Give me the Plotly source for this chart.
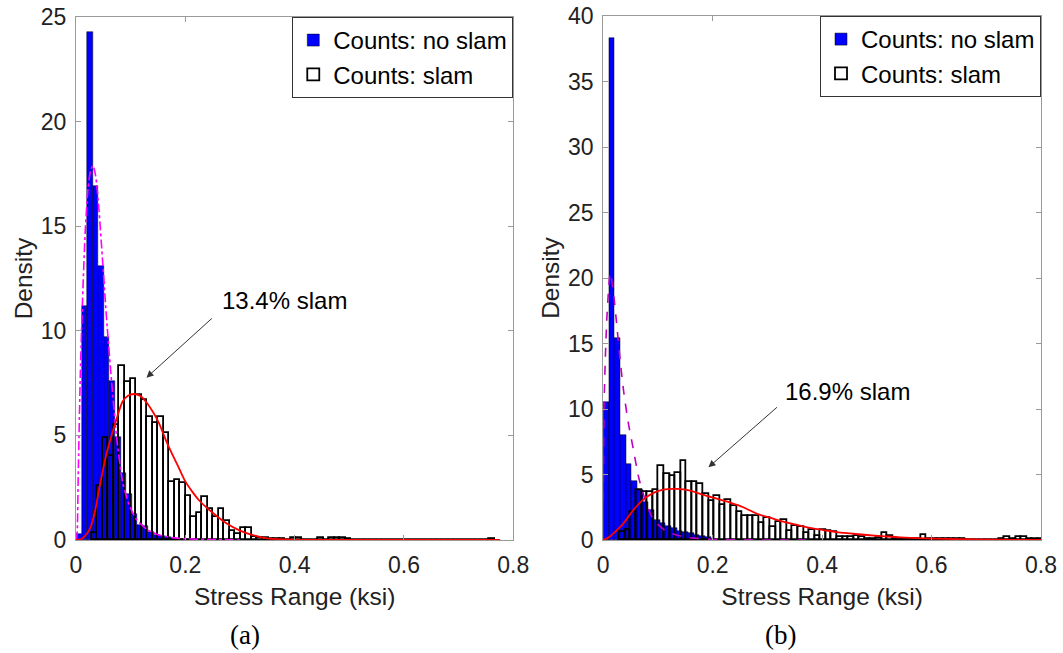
import plotly.graph_objects as go

# ---------------- data ----------------
# (a) left panel
a_noslam_start = 0.0
a_noslam_width = 0.0102
a_noslam = [0.3, 11.2, 24.3, 16.9, 13.1, 9.7, 7.6, 4.9, 3.2, 2.2, 1.25, 0.7, 0.65,
            0.4, 0.25, 0.2, 0.12, 0.08, 0.05, 0.03, 0.02]

a_slam_start = 0.029
a_slam_width = 0.0101
a_slam = [0.32, 2.58, 4.89, 4.02, 5.5, 8.33, 7.57, 7.68, 6.93, 6.69, 5.9, 5.6, 5.9,
          5.1, 2.79, 2.87, 2.74, 2.1, 1.11, 1.28, 2.07, 1.5, 1.1, 1.5, 0.9, 0.45,
          0.28, 0.55, 0.55, 0.16, 0.1, 0.1, 0.05, 0.05, 0.05, 0.0, 0.1, 0.1, 0.0,
          0.0, 0.0, 0.1, 0.0, 0.1, 0.1, 0.1, 0.05, 0, 0, 0, 0, 0, 0, 0, 0, 0, 0,
          0, 0, 0, 0, 0, 0, 0, 0, 0, 0, 0, 0, 0, 0, 0, 0.05]

a_fit_noslam_x = [0.0, 0.002, 0.004, 0.008, 0.012, 0.017, 0.022, 0.027, 0.031, 0.036,
                  0.042, 0.049, 0.057, 0.065, 0.074, 0.085, 0.097, 0.11, 0.13, 0.15,
                  0.18, 0.21, 0.25, 0.3]
a_fit_noslam_y = [0.0, 0.3, 3.0, 8.0, 11.5, 14.8, 16.8, 17.7, 17.9, 17.4, 15.8, 13.2,
                  10.2, 7.6, 5.0, 2.8, 1.7, 1.0, 0.5, 0.25, 0.1, 0.05, 0.02, 0.0]

a_fit_slam_x = [0.0, 0.01, 0.02, 0.027, 0.035, 0.042, 0.0545, 0.07, 0.085, 0.095, 0.106,
                0.117, 0.128, 0.14, 0.152, 0.164, 0.176, 0.189, 0.2, 0.213, 0.225,
                0.25, 0.275, 0.3, 0.325, 0.35, 0.4, 0.5, 0.6, 0.776]
a_fit_slam_y = [0.0, 0.05, 0.3, 0.64, 1.4, 2.39, 3.98, 5.42, 6.61, 6.9, 6.98, 6.9, 6.61,
                6.15, 5.58, 4.8, 4.1, 3.4, 2.8, 2.3, 1.9, 1.3, 0.8, 0.45, 0.22, 0.08,
                0.02, 0.005, 0.0, 0.0]

# (b) right panel
b_noslam_start = 0.0
b_noslam_width = 0.01035
b_noslam = [10.56, 38.3, 15.4, 8.05, 5.8, 4.5, 3.8, 2.9, 2.3, 1.5, 1.3, 1.1, 0.9, 0.7,
            0.6, 0.5, 0.4, 0.3, 0.2, 0.1]

b_slam_start = 0.0298
b_slam_width = 0.0102
b_slam = [0.64, 0.8, 2.1, 3.8, 3.7, 3.7, 3.8, 5.65, 5.04, 4.85, 5.14, 6.05, 4.45, 4.4,
          4.3, 3.5, 3.0, 3.35, 2.7, 3.05, 2.6, 2.1, 1.85, 1.85, 1.8, 1.3, 1.7, 1.0,
          1.35, 1.55, 0.65, 1.08, 0.97, 0.5, 0.76, 0.3, 0.76, 0.71, 0.64, 0.25, 0.22,
          0.25, 0.3, 0.25, 0.08, 0.1, 0.13, 0.5, 0.3, 0.1, 0.05, 0.05, 0.05, 0.08,
          0.38, 0.05, 0.05, 0.05, 0.05, 0.05, 0.08, 0.05, 0, 0, 0, 0, 0, 0, 0.05,
          0.25, 0.1, 0.25, 0.25, 0.05, 0.1, 0.05]

b_fit_noslam_x = [0.0, 0.0018, 0.0067, 0.0128, 0.0189, 0.025, 0.031, 0.037, 0.046,
                  0.0553, 0.0645, 0.0767, 0.092, 0.116, 0.153, 0.2, 0.26, 0.37]
b_fit_noslam_y = [3.0, 10.9, 17.0, 20.4, 18.8, 16.3, 13.7, 11.45, 8.9, 6.87, 4.83,
                  3.05, 1.53, 0.64, 0.2, 0.05, 0.01, 0.0]

b_fit_slam_x = [0.0, 0.01, 0.0188, 0.037, 0.0553, 0.0736, 0.0919, 0.11, 0.1345, 0.159,
                0.183, 0.2076, 0.232, 0.256, 0.281, 0.305, 0.329, 0.354, 0.378, 0.402,
                0.427, 0.451, 0.482, 0.51, 0.542, 0.603, 0.65, 0.7, 0.75, 0.8]
b_fit_slam_y = [0.0, 0.2, 0.51, 1.27, 2.3, 3.1, 3.6, 3.85, 3.9, 3.77, 3.44, 3.15, 2.85,
                2.5, 2.0, 1.7, 1.4, 1.15, 0.92, 0.76, 0.6, 0.5, 0.38, 0.3, 0.2, 0.1,
                0.06, 0.03, 0.01, 0.0]

legend_labels = ["Counts: no slam", "Counts: slam"]
x_ticks = [0, 0.2, 0.4, 0.6, 0.8]
x_ticktext = ["0", "0.2", "0.4", "0.6", "0.8"]
a_y_ticks = [0, 5, 10, 15, 20, 25]
b_y_ticks = [0, 5, 10, 15, 20, 25, 30, 35, 40]
x_title = "Stress Range (ksi)"
y_title = "Density"
a_note = "13.4% slam"
b_note = "16.9% slam"

# ---------------- figure ----------------
FONT = "Liberation Sans, Arial, Helvetica, sans-serif"
SERIF = "Liberation Serif, Times New Roman, serif"
AXC = "#9a9a9a"
TXT = "#222222"


def centers(start, width, n):
    return [start + width * (i + 0.5) for i in range(n)]


fig = go.Figure()


def add_panel(xa, ya, leg, ns_start, ns_w, ns, s_start, s_w, s, fnx, fny, fsx, fsy,
              mag_color, mag_dash):
    fig.add_trace(go.Bar(
        x=centers(ns_start, ns_w, len(ns)), y=ns, width=ns_w,
        marker=dict(color="#0000ff", line=dict(color="#000000", width=0.5)),
        name=legend_labels[0], legend=leg, xaxis=xa, yaxis=ya))
    fig.add_trace(go.Bar(
        x=centers(s_start, s_w, len(s)), y=s, width=s_w,
        marker=dict(color="rgba(0,0,0,0)", line=dict(color="#000000", width=1.8)),
        name=legend_labels[1], legend=leg, xaxis=xa, yaxis=ya))
    fig.add_trace(go.Scatter(
        x=fnx, y=fny, mode="lines", line=dict(color=mag_color, width=1.6, dash=mag_dash,
                                              shape="spline", smoothing=0.6),
        showlegend=False, xaxis=xa, yaxis=ya))
    fig.add_trace(go.Scatter(
        x=fsx, y=fsy, mode="lines", line=dict(color="#ff0000", width=1.8,
                                              shape="spline", smoothing=0.6),
        showlegend=False, xaxis=xa, yaxis=ya))


add_panel("x", "y", "legend", a_noslam_start, a_noslam_width, a_noslam,
          a_slam_start, a_slam_width, a_slam, a_fit_noslam_x, a_fit_noslam_y,
          a_fit_slam_x, a_fit_slam_y, "#ff00ff", "dashdot")
add_panel("x2", "y2", "legend2", b_noslam_start, b_noslam_width, b_noslam,
          b_slam_start, b_slam_width, b_slam, b_fit_noslam_x, b_fit_noslam_y,
          b_fit_slam_x, b_fit_slam_y, "#c000c0", "dash")

axis_common = dict(
    showline=True, linecolor=AXC, linewidth=1, mirror="ticks",
    ticks="inside", ticklen=5, tickcolor=AXC, tickwidth=1,
    showgrid=False, zeroline=False,
    tickfont=dict(family=FONT, size=23, color=TXT),
    automargin=False,
)
x_extra = dict(ticklabelstandoff=4)
y_extra = dict(ticklabelstandoff=4)

L, R, T, B = 75.5, 22, 16, 113
W, H = 1063, 653
pw = W - L - R
ph = H - T - B
left_dom = [0, (513 - L) / pw]
right_dom = [(603 - L) / pw, 1.0]

fig.update_layout(
    width=W, height=H,
    margin=dict(l=L, r=R, t=T, b=B, pad=0),
    paper_bgcolor="white", plot_bgcolor="white",
    barmode="overlay", bargap=0,
    font=dict(family=FONT, size=24, color=TXT),
    xaxis=dict(domain=left_dom, range=[0, 0.8], anchor="y", tickvals=x_ticks,
               ticktext=x_ticktext,
               title=dict(text=x_title, font=dict(family=FONT, size=24.5, color=TXT),
                          standoff=11),
               **axis_common, **x_extra),
    yaxis=dict(domain=[0, 1 - 1 / ph], range=[0, 25], anchor="x",
               tickvals=a_y_ticks,
               title=dict(text=y_title, font=dict(family=FONT, size=24.5, color=TXT),
                          standoff=1),
               **axis_common, **y_extra),
    xaxis2=dict(domain=right_dom, range=[0, 0.8], anchor="y2", tickvals=x_ticks,
                ticktext=x_ticktext,
                title=dict(text=x_title, font=dict(family=FONT, size=24.5, color=TXT),
                           standoff=11),
                **axis_common, **x_extra),
    yaxis2=dict(domain=[0, 1], range=[0, 40], anchor="x2", tickvals=b_y_ticks,
                title=dict(text=y_title, font=dict(family=FONT, size=24.5, color=TXT),
                           standoff=1),
                **axis_common, **y_extra),
    legend=dict(x=left_dom[1], xanchor="right", y=1 - 1 / ph, yanchor="top",
                bgcolor="white", bordercolor="#333333", borderwidth=1,
                font=dict(family=FONT, size=24, color="#000000"),
                tracegroupgap=0, itemclick=False, itemdoubleclick=False),
    legend2=dict(x=1.0, xanchor="right", y=1.0, yanchor="top",
                 bgcolor="white", bordercolor="#333333", borderwidth=1,
                 font=dict(family=FONT, size=24, color="#000000"),
                 tracegroupgap=0, itemclick=False, itemdoubleclick=False),
)

annots = [
    # arrows
    dict(x=0.1289, y=7.76, ax=0.2514, ay=10.66, xref="x", yref="y", axref="x", ayref="y",
         text="", showarrow=True, arrowhead=2, arrowsize=1.4, arrowwidth=1,
         arrowcolor="#333333"),
    dict(x=0.1923, y=5.55, ax=0.3202, ay=10.23, xref="x2", yref="y2", axref="x2",
         ayref="y2", text="", showarrow=True, arrowhead=2, arrowsize=1.4, arrowwidth=1,
         arrowcolor="#333333"),
    # texts
    dict(x=0.3812, y=11.47, xref="x", yref="y", text=a_note, showarrow=False,
         xanchor="center", yanchor="middle",
         font=dict(family=FONT, size=24, color="#000000")),
    dict(x=0.4457, y=11.3, xref="x2", yref="y2", text=b_note, showarrow=False,
         xanchor="center", yanchor="middle",
         font=dict(family=FONT, size=24, color="#000000")),
    # panel labels
    dict(x=(245 - L) / pw, y=-95 / ph, xref="paper", yref="paper", text="(a)",
         showarrow=False, xanchor="center", yanchor="middle",
         font=dict(family=SERIF, size=27, color="#000000")),
    dict(x=(780 - L) / pw, y=-95 / ph, xref="paper", yref="paper", text="(b)",
         showarrow=False, xanchor="center", yanchor="middle",
         font=dict(family=SERIF, size=27, color="#000000")),
]
fig.update_layout(annotations=annots)

fig.write_html("out.html")
